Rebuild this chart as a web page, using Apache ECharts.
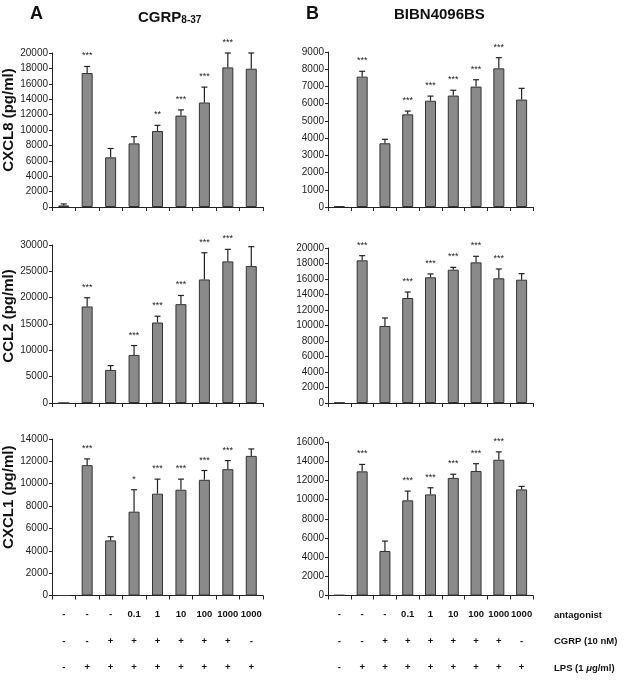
<!DOCTYPE html>
<html>
<head>
<meta charset="utf-8">
<script src="https://cdn.jsdelivr.net/npm/echarts@6/dist/echarts.min.js"></script>
<style>html,body{margin:0;padding:0;background:#fff}#c{width:625px;height:681px}</style>
</head>
<body>
<div id="c"></div>
<script>
// ---- data ----
const categories = ['1','2','3','4','5','6','7','8','9'];
const antagonistRow = ['-','-','-','0.1','1','10','100','1000','1000'];
const cgrpRow = ['-','-','+','+','+','+','+','+','-'];
const lpsRow = ['-','+','+','+','+','+','+','+','+'];

const cxcl8A = [200, 17400, 6450, 8260, 9870, 11870, 13570, 18130, 17960];
const cxcl8AErr = [200, 850, 1150, 870, 740, 740, 2000, 1870, 2040];
const cxcl8ASig = ['', '***', '', '', '**', '***', '***', '***', ''];

const cxcl8B = [50, 7570, 3700, 5380, 6170, 6470, 6990, 8050, 6240];
const cxcl8BErr = [0, 310, 230, 190, 270, 310, 400, 620, 650];
const cxcl8BSig = ['', '***', '', '***', '***', '***', '***', '***', ''];

const ccl2A = [0, 18330, 6280, 9130, 15280, 18770, 23460, 26890, 26000];
const ccl2AErr = [0, 1650, 820, 1780, 1200, 1650, 5070, 2280, 3680];
const ccl2ASig = ['', '***', '', '***', '***', '***', '***', '***', ''];

const ccl2B = [50, 18410, 9940, 13550, 16220, 17200, 18150, 16090, 15910];
const ccl2BErr = [0, 600, 1030, 770, 430, 300, 780, 1200, 780];
const ccl2BSig = ['', '***', '', '***', '***', '***', '***', '***', ''];

const cxcl1A = [0, 11660, 4930, 7500, 9110, 9460, 10350, 11300, 12490];
const cxcl1AErr = [0, 560, 330, 1960, 1300, 950, 830, 770, 620];
const cxcl1ASig = ['', '***', '', '*', '***', '***', '***', '***', ''];

const cxcl1B = [50, 12940, 4640, 9920, 10540, 12260, 12980, 14150, 11060];
const cxcl1BErr = [0, 720, 1030, 960, 690, 380, 760, 820, 310];
const cxcl1BSig = ['', '***', '', '***', '***', '***', '***', '***', ''];

const yMaxA = [20000, 30000, 14000];
const yIntA = [2000, 5000, 2000];
const yMaxB = [9000, 20000, 16000];
const yIntB = [1000, 2000, 2000];
const yNames = ['CXCL8 (pg/ml)', 'CCL2 (pg/ml)', 'CXCL1 (pg/ml)'];
const rowLabels = ['antagonist', 'CGRP (10 nM)', 'LPS (1 {i|μ}g/ml)'];

// ---- layout ----
const panels = [
  {vals: cxcl8A, err: cxcl8AErr, sig: cxcl8ASig, max: yMaxA[0], int: yIntA[0], name: yNames[0], grid:{left:52, top:53, width:211, height:154}},
  {vals: cxcl8B, err: cxcl8BErr, sig: cxcl8BSig, max: yMaxB[0], int: yIntB[0], name: '', grid:{left:328, top:52, width:205, height:155}},
  {vals: ccl2A, err: ccl2AErr, sig: ccl2ASig, max: yMaxA[1], int: yIntA[1], name: yNames[1], grid:{left:52, top:245, width:211, height:158}},
  {vals: ccl2B, err: ccl2BErr, sig: ccl2BSig, max: yMaxB[1], int: yIntB[1], name: '', grid:{left:328, top:248, width:205, height:155}},
  {vals: cxcl1A, err: cxcl1AErr, sig: cxcl1ASig, max: yMaxA[2], int: yIntA[2], name: yNames[2], grid:{left:52, top:439, width:211, height:158}},
  {vals: cxcl1B, err: cxcl1BErr, sig: cxcl1BSig, max: yMaxB[2], int: yIntB[2], name: '', grid:{left:328, top:442, width:205, height:156}}
];

const FONT = 'Liberation Sans, Arial, sans-serif';
const grids = [], xAxes = [], yAxes = [], series = [];
const bottomLabels = categories.map((c, i) => antagonistRow[i] + '\n' + cgrpRow[i] + '\n' + lpsRow[i]);

panels.forEach((p, k) => {
  grids.push(Object.assign({containLabel: false}, p.grid));
  const isBottom = k >= 4;
  xAxes.push({
    type: 'category', gridIndex: k, data: isBottom ? bottomLabels : categories,
    axisLine: {lineStyle: {color: '#222', width: 1}},
    axisTick: {show: true, length: 4, lineStyle: {color: '#222'}},
    axisLabel: isBottom ? {
      show: true, interval: 0, margin: 6, lineHeight: 26.5,
      fontFamily: FONT, fontWeight: 'bold', fontSize: 9.5, color: '#111'
    } : {show: false}
  });
  yAxes.push({
    type: 'value', gridIndex: k, min: 0, max: p.max, interval: p.int,
    name: p.name, nameLocation: 'middle', nameGap: 30, nameRotate: 90,
    nameTextStyle: {fontFamily: FONT, fontWeight: 'bold', fontSize: 15, color: '#111',
      padding: k === 4 ? [0, 0, 0, 40] : (k === 2 ? [0, 0, 0, 16] : [0, 0, 0, 20])},
    axisLine: {show: true, lineStyle: {color: '#222', width: 1}},
    axisTick: {show: true, length: 3, lineStyle: {color: '#222'}},
    axisLabel: {fontFamily: FONT, fontSize: 10, color: '#222', margin: 4,
      formatter: function (v) { return String(v); }},
    splitLine: {show: false}
  });
  series.push({
    type: 'bar', xAxisIndex: k, yAxisIndex: k, data: p.vals, barWidth: 11,
    itemStyle: {color: '#8a8a8a', borderColor: '#333', borderWidth: 1},
    silent: true, animation: false
  });
  series.push({
    type: 'custom', xAxisIndex: k, yAxisIndex: k, animation: false, silent: true,
    data: p.vals.map((v, i) => [i, v, p.err[i]]),
    renderItem: function (params, api) {
      const i = api.value(0), v = api.value(1), e = api.value(2);
      const s = p.sig[i];
      const base = api.coord([i, v]);
      const top = api.coord([i, v + e]);
      const children = [];
      if (e > 0) {
        children.push({type: 'line', shape: {x1: base[0], y1: base[1], x2: top[0], y2: top[1]}, style: {stroke: '#222', lineWidth: 1.2}});
        children.push({type: 'line', shape: {x1: top[0] - 3, y1: top[1], x2: top[0] + 3, y2: top[1]}, style: {stroke: '#222', lineWidth: 1.2}});
      }
      if (s) {
        children.push({type: 'text', style: {text: s, x: top[0], y: top[1] - 6, align: 'center', verticalAlign: 'bottom', fontSize: 9, fontFamily: FONT, fill: '#222'}});
      }
      return {type: 'group', children: children};
    }
  });
});

const titles = [
  {text: 'A', left: 25, top: 0, textStyle: {fontFamily: FONT, fontWeight: 'bold', fontSize: 18, color: '#111'}},
  {text: '{m|CGRP}{s|8-37}', left: 133, top: 2, textStyle: {rich: {
    m: {fontFamily: FONT, fontWeight: 'bold', fontSize: 15, color: '#111', verticalAlign: 'bottom'},
    s: {fontFamily: FONT, fontWeight: 'bold', fontSize: 10, color: '#111', padding: [8, 0, 0, 0], verticalAlign: 'bottom'}
  }}},
  {text: 'B', left: 301, top: 0, textStyle: {fontFamily: FONT, fontWeight: 'bold', fontSize: 18, color: '#111'}},
  {text: 'BIBN4096BS', left: 389, top: 2, textStyle: {fontFamily: FONT, fontWeight: 'bold', fontSize: 15, color: '#111'}}
];

const rowY = [616, 642.5, 669];
const graphics = rowLabels.map((t, i) => ({
  type: 'text', left: 554, top: rowY[i] - 6,
  style: {text: t, fontFamily: FONT, fontWeight: 'bold', fontSize: 9.5, fill: '#111',
    rich: {i: {fontFamily: FONT, fontWeight: 'bold', fontStyle: 'italic', fontSize: 9.5, fill: '#111'}}}
}));

const chart = echarts.init(document.getElementById('c'), null, {renderer: 'canvas'});
chart.setOption({
  backgroundColor: '#fff', animation: false,
  title: titles, grid: grids, xAxis: xAxes, yAxis: yAxes, series: series, graphic: graphics
});
</script>
</body>
</html>
